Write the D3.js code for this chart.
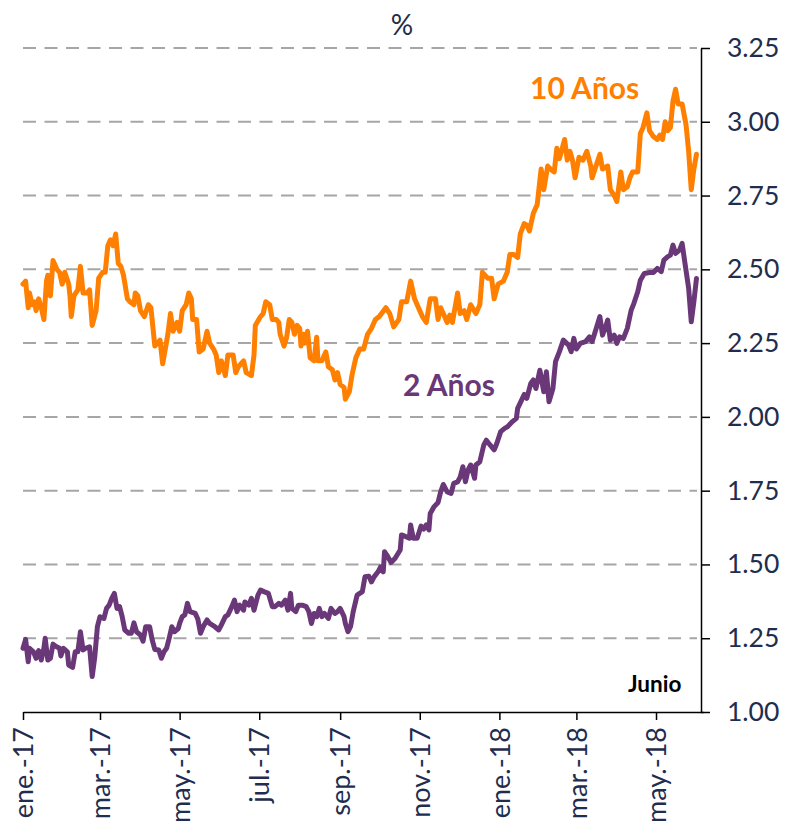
<!DOCTYPE html>
<html>
<head>
<meta charset="utf-8">
<script src="https://cdn.jsdelivr.net/npm/d3@7"></script>
<style>
  html, body { margin: 0; padding: 0; background: #fff; }
  svg { display: block; font-family: Lato, "Open Sans", "Liberation Sans", sans-serif; }
</style>
</head>
<body>
<svg id="chart" width="788" height="838"></svg>
<script>
// ---------------- DATA ----------------
const yTicks = [1.00, 1.25, 1.50, 1.75, 2.00, 2.25, 2.50, 2.75, 3.00, 3.25];
const xTickDates = ["2017-01-01","2017-03-01","2017-05-01","2017-07-01","2017-09-01","2017-11-01","2018-01-01","2018-03-01","2018-05-01"];
const xTickLabels = ["ene.-17","mar.-17","may.-17","jul.-17","sep.-17","nov.-17","ene.-18","mar.-18","may.-18"];
const xDomain = ["2017-01-01","2018-06-06"];
const seriesNames = ["10 Años","2 Años"];

// Bono del Tesoro a 10 años (%)
const tenYear = [
["2017-01-01",2.45],["2017-01-03",2.46],["2017-01-05",2.37],["2017-01-06",2.42],["2017-01-08",2.38],["2017-01-10",2.39],
["2017-01-11",2.36],["2017-01-13",2.40],["2017-01-15",2.37],["2017-01-17",2.33],["2017-01-19",2.46],["2017-01-20",2.48],
["2017-01-22",2.41],["2017-01-24",2.53],["2017-01-27",2.50],["2017-01-29",2.49],["2017-01-31",2.45],["2017-02-02",2.49],
["2017-02-05",2.45],["2017-02-06",2.41],["2017-02-07",2.34],["2017-02-09",2.41],["2017-02-12",2.43],["2017-02-14",2.51],
["2017-02-16",2.42],["2017-02-19",2.42],["2017-02-21",2.43],["2017-02-23",2.31],["2017-02-26",2.36],["2017-02-28",2.47],
["2017-03-03",2.49],["2017-03-05",2.49],["2017-03-07",2.58],["2017-03-09",2.60],["2017-03-11",2.58],["2017-03-13",2.62],
["2017-03-15",2.52],["2017-03-17",2.51],["2017-03-19",2.48],["2017-03-22",2.40],["2017-03-24",2.39],["2017-03-27",2.38],
["2017-03-28",2.42],["2017-03-30",2.41],["2017-04-01",2.36],["2017-04-04",2.34],["2017-04-07",2.38],["2017-04-09",2.37],
["2017-04-12",2.24],["2017-04-14",2.25],["2017-04-16",2.26],["2017-04-18",2.18],["2017-04-20",2.23],["2017-04-22",2.28],
["2017-04-24",2.35],["2017-04-26",2.29],["2017-04-29",2.32],["2017-05-01",2.29],["2017-05-03",2.36],["2017-05-06",2.38],
["2017-05-08",2.42],["2017-05-10",2.40],["2017-05-11",2.33],["2017-05-14",2.33],["2017-05-16",2.22],["2017-05-19",2.23],
["2017-05-22",2.29],["2017-05-24",2.25],["2017-05-27",2.23],["2017-05-29",2.21],["2017-05-31",2.15],["2017-06-02",2.19],
["2017-06-05",2.14],["2017-06-07",2.21],["2017-06-11",2.21],["2017-06-13",2.15],["2017-06-15",2.17],["2017-06-19",2.19],
["2017-06-21",2.15],["2017-06-25",2.14],["2017-06-27",2.21],["2017-06-28",2.31],["2017-07-02",2.34],["2017-07-04",2.35],
["2017-07-06",2.39],["2017-07-09",2.38],["2017-07-11",2.33],["2017-07-14",2.33],["2017-07-16",2.32],["2017-07-17",2.28],
["2017-07-20",2.24],["2017-07-22",2.27],["2017-07-24",2.33],["2017-07-26",2.32],["2017-07-28",2.28],["2017-07-30",2.31],
["2017-08-01",2.30],["2017-08-02",2.24],["2017-08-04",2.28],["2017-08-05",2.25],["2017-08-07",2.29],["2017-08-09",2.20],
["2017-08-12",2.19],["2017-08-14",2.27],["2017-08-15",2.19],["2017-08-18",2.19],["2017-08-21",2.22],["2017-08-23",2.17],
["2017-08-26",2.16],["2017-08-28",2.125],["2017-08-30",2.15],["2017-09-01",2.11],["2017-09-04",2.10],["2017-09-05",2.06],
["2017-09-08",2.085],["2017-09-10",2.14],["2017-09-13",2.20],["2017-09-16",2.23],["2017-09-19",2.23],["2017-09-22",2.28],
["2017-09-25",2.30],["2017-09-28",2.33],["2017-10-01",2.34],["2017-10-06",2.37],["2017-10-09",2.35],["2017-10-12",2.305],
["2017-10-16",2.33],["2017-10-18",2.39],["2017-10-22",2.39],["2017-10-25",2.46],["2017-10-28",2.40],["2017-10-31",2.37],
["2017-11-03",2.34],["2017-11-06",2.32],["2017-11-09",2.40],["2017-11-13",2.40],["2017-11-15",2.33],["2017-11-17",2.37],
["2017-11-19",2.35],["2017-11-22",2.32],["2017-11-24",2.345],["2017-11-26",2.32],["2017-11-30",2.42],["2017-12-02",2.35],
["2017-12-05",2.36],["2017-12-07",2.33],["2017-12-10",2.38],["2017-12-14",2.35],["2017-12-17",2.38],["2017-12-19",2.49],
["2017-12-23",2.47],["2017-12-26",2.47],["2017-12-28",2.40],["2017-12-31",2.45],["2018-01-04",2.46],["2018-01-07",2.49],
["2018-01-09",2.55],["2018-01-12",2.55],["2018-01-15",2.54],["2018-01-17",2.62],["2018-01-20",2.655],["2018-01-22",2.65],
["2018-01-24",2.63],["2018-01-27",2.69],["2018-01-30",2.72],["2018-01-31",2.76],["2018-02-02",2.84],["2018-02-04",2.77],
["2018-02-07",2.85],["2018-02-09",2.84],["2018-02-12",2.83],["2018-02-14",2.91],["2018-02-16",2.875],["2018-02-20",2.94],
["2018-02-22",2.87],["2018-02-24",2.90],["2018-02-26",2.87],["2018-02-28",2.81],["2018-03-03",2.88],["2018-03-06",2.87],
["2018-03-09",2.90],["2018-03-12",2.85],["2018-03-13",2.81],["2018-03-16",2.85],["2018-03-19",2.89],["2018-03-21",2.84],
["2018-03-25",2.85],["2018-03-27",2.77],["2018-03-30",2.75],["2018-04-01",2.73],["2018-04-04",2.83],["2018-04-06",2.77],
["2018-04-09",2.78],["2018-04-11",2.81],["2018-04-13",2.83],["2018-04-17",2.83],["2018-04-19",2.96],["2018-04-21",2.98],
["2018-04-24",3.03],["2018-04-26",2.97],["2018-04-29",2.95],["2018-05-02",2.94],["2018-05-04",2.955],["2018-05-06",2.94],
["2018-05-08",3.00],["2018-05-10",2.97],["2018-05-12",2.98],["2018-05-14",3.07],["2018-05-16",3.11],["2018-05-18",3.06],
["2018-05-21",3.06],["2018-05-24",2.99],["2018-05-26",2.90],["2018-05-28",2.77],["2018-05-30",2.84],["2018-06-01",2.89]
];

// Bono del Tesoro a 2 años (%)
const twoYear = [
["2017-01-01",1.216],["2017-01-03",1.246],["2017-01-05",1.170],["2017-01-06",1.216],["2017-01-09",1.204],["2017-01-11",1.182],
["2017-01-13",1.208],["2017-01-15",1.176],["2017-01-17",1.216],["2017-01-18",1.250],["2017-01-20",1.176],["2017-01-22",1.182],
["2017-01-24",1.230],["2017-01-26",1.223],["2017-01-29",1.216],["2017-01-30",1.190],["2017-02-01",1.216],["2017-02-04",1.204],
["2017-02-05",1.159],["2017-02-08",1.151],["2017-02-10",1.204],["2017-02-12",1.204],["2017-02-14",1.272],["2017-02-16",1.210],
["2017-02-18",1.216],["2017-02-21",1.221],["2017-02-23",1.120],["2017-02-25",1.187],["2017-02-27",1.289],["2017-03-01",1.323],
["2017-03-04",1.317],["2017-03-06",1.351],["2017-03-08",1.362],["2017-03-10",1.385],["2017-03-12",1.402],["2017-03-14",1.351],
["2017-03-16",1.357],["2017-03-18",1.323],["2017-03-20",1.278],["2017-03-23",1.267],["2017-03-25",1.267],["2017-03-27",1.302],
["2017-03-29",1.272],["2017-04-01",1.261],["2017-04-03",1.240],["2017-04-05",1.289],["2017-04-08",1.289],["2017-04-10",1.244],
["2017-04-12",1.212],["2017-04-15",1.210],["2017-04-17",1.182],["2017-04-19",1.204],["2017-04-21",1.216],["2017-04-23",1.250],
["2017-04-25",1.289],["2017-04-27",1.272],["2017-04-30",1.283],["2017-05-01",1.300],["2017-05-03",1.323],["2017-05-05",1.329],
["2017-05-07",1.368],["2017-05-09",1.340],["2017-05-13",1.334],["2017-05-15",1.314],["2017-05-17",1.267],["2017-05-19",1.289],
["2017-05-22",1.312],["2017-05-24",1.300],["2017-05-28",1.289],["2017-05-31",1.278],["2017-06-02",1.295],["2017-06-05",1.323],
["2017-06-07",1.329],["2017-06-10",1.357],["2017-06-12",1.379],["2017-06-14",1.340],["2017-06-16",1.362],["2017-06-19",1.345],
["2017-06-20",1.373],["2017-06-23",1.362],["2017-06-25",1.385],["2017-06-27",1.345],["2017-06-30",1.396],["2017-07-02",1.413],
["2017-07-05",1.407],["2017-07-08",1.402],["2017-07-11",1.357],["2017-07-13",1.357],["2017-07-16",1.368],["2017-07-18",1.362],
["2017-07-21",1.379],["2017-07-23",1.345],["2017-07-25",1.402],["2017-07-26",1.351],["2017-07-29",1.340],["2017-07-31",1.362],
["2017-08-03",1.362],["2017-08-06",1.357],["2017-08-08",1.340],["2017-08-10",1.300],["2017-08-12",1.334],["2017-08-14",1.323],
["2017-08-16",1.351],["2017-08-18",1.323],["2017-08-20",1.334],["2017-08-23",1.317],["2017-08-25",1.351],["2017-08-28",1.334],
["2017-08-30",1.340],["2017-09-01",1.351],["2017-09-04",1.323],["2017-09-05",1.300],["2017-09-07",1.272],["2017-09-09",1.290],
["2017-09-11",1.340],["2017-09-14",1.396],["2017-09-18",1.408],["2017-09-20",1.458],["2017-09-23",1.460],["2017-09-25",1.441],
["2017-09-27",1.458],["2017-09-30",1.475],["2017-10-02",1.492],["2017-10-04",1.475],["2017-10-05",1.543],["2017-10-07",1.530],
["2017-10-10",1.507],["2017-10-13",1.520],["2017-10-17",1.549],["2017-10-18",1.600],["2017-10-21",1.595],["2017-10-24",1.589],
["2017-10-25",1.634],["2017-10-27",1.589],["2017-10-30",1.589],["2017-11-02",1.630],["2017-11-04",1.620],["2017-11-06",1.634],
["2017-11-08",1.617],["2017-11-09",1.673],["2017-11-12",1.696],["2017-11-15",1.710],["2017-11-17",1.746],["2017-11-19",1.771],
["2017-11-22",1.746],["2017-11-25",1.741],["2017-11-27",1.775],["2017-11-30",1.780],["2017-12-02",1.797],["2017-12-04",1.831],
["2017-12-06",1.780],["2017-12-08",1.820],["2017-12-10",1.837],["2017-12-13",1.792],["2017-12-14",1.837],["2017-12-17",1.848],
["2017-12-20",1.904],["2017-12-22",1.921],["2017-12-25",1.904],["2017-12-28",1.888],["2017-12-30",1.910],["2018-01-02",1.950],
["2018-01-05",1.961],["2018-01-07",1.966],["2018-01-11",1.984],["2018-01-14",1.995],["2018-01-15",2.029],["2018-01-18",2.057],
["2018-01-20",2.076],["2018-01-22",2.063],["2018-01-25",2.113],["2018-01-27",2.125],["2018-01-29",2.096],["2018-02-01",2.158],
["2018-02-04",2.085],["2018-02-06",2.153],["2018-02-08",2.051],["2018-02-11",2.096],["2018-02-13",2.187],["2018-02-16",2.221],
["2018-02-19",2.260],["2018-02-23",2.243],["2018-02-25",2.221],["2018-02-27",2.266],["2018-03-01",2.230],["2018-03-04",2.249],
["2018-03-08",2.255],["2018-03-11",2.271],["2018-03-13",2.255],["2018-03-17",2.311],["2018-03-19",2.340],["2018-03-21",2.277],
["2018-03-23",2.300],["2018-03-25",2.328],["2018-03-27",2.260],["2018-03-30",2.277],["2018-04-01",2.249],["2018-04-03",2.271],
["2018-04-06",2.266],["2018-04-09",2.300],["2018-04-12",2.362],["2018-04-14",2.384],["2018-04-17",2.424],["2018-04-19",2.463],
["2018-04-22",2.486],["2018-04-26",2.489],["2018-04-29",2.489],["2018-05-02",2.503],["2018-05-05",2.492],["2018-05-07",2.531],
["2018-05-10",2.543],["2018-05-12",2.548],["2018-05-14",2.582],["2018-05-16",2.554],["2018-05-19",2.565],["2018-05-21",2.588],
["2018-05-23",2.526],["2018-05-26",2.436],["2018-05-28",2.322],["2018-05-30",2.390],["2018-06-01",2.469]
];

// ---------------- CHART ----------------
const parse = d3.timeParse("%Y-%m-%d");
const svg = d3.select("#chart");
const textColor = "#1f2d4e";

const x = d3.scaleTime().domain(xDomain.map(parse)).range([23, 703]);
const y = d3.scaleLinear().domain([1, 3.25]).range([712, 48]);

// gridlines
svg.append("g").selectAll("line")
  .data(yTicks.filter(v => v > 1))
  .join("line")
  .attr("x1", 23).attr("x2", 697)
  .attr("y1", d => y(d)).attr("y2", d => y(d))
  .attr("stroke", "#a6a6a6").attr("stroke-width", 2)
  .attr("stroke-dasharray", "13,8.5");

// lines
const line = d3.line().x(d => x(parse(d[0]))).y(d => y(d[1])).curve(d3.curveLinear);
const colors = ["#ff7f00", "#6a3878"];
[tenYear, twoYear].forEach((s, i) => {
  svg.append("path").datum(s)
    .attr("fill", "none")
    .attr("stroke", colors[i])
    .attr("stroke-width", 5)
    .attr("stroke-linejoin", "round")
    .attr("stroke-linecap", "round")
    .attr("d", line);
});

// x axis
const xAxis = d3.axisBottom(x)
  .tickValues(xTickDates.map(parse))
  .tickFormat((d, i) => xTickLabels[i])
  .tickSize(8).tickSizeOuter(0);
const gx = svg.append("g").attr("transform", "translate(0,712)").call(xAxis);
gx.select(".domain").attr("stroke", "#000").attr("stroke-width", 1.5);
gx.selectAll(".tick line").attr("stroke", "#000").attr("stroke-width", 1.5);
gx.selectAll(".tick text")
  .attr("transform", "rotate(-90)")
  .attr("x", -15).attr("y", 0).attr("dy", "0.36em")
  .style("text-anchor", "end")
  .style("font-size", "27px")
  .style("font-family", "Lato, 'Open Sans', sans-serif")
  .attr("fill", textColor);

// y axis (right)
const yAxis = d3.axisRight(y)
  .tickValues(yTicks)
  .tickFormat(d3.format(".2f"))
  .tickSize(9).tickSizeOuter(0).tickPadding(17);
const gy = svg.append("g").attr("transform", "translate(701,0)").call(yAxis);
gy.select(".domain").attr("stroke", "#000").attr("stroke-width", 1.5);
gy.selectAll(".tick line").attr("stroke", "#000").attr("stroke-width", 1.5);
gy.selectAll(".tick text")
  .style("font-size", "26.5px")
  .style("font-family", "Lato, 'Open Sans', sans-serif")
  .attr("fill", textColor);

// titles and labels
svg.append("text").attr("x", 402).attr("y", 35)
  .attr("text-anchor", "middle").attr("fill", textColor)
  .style("font-size", "28px").text("%");

svg.append("text").attr("x", 530).attr("y", 99)
  .attr("fill", colors[0]).style("font-size", "30px").style("font-weight", "bold")
  .text(seriesNames[0]);

svg.append("text").attr("x", 403).attr("y", 396)
  .attr("fill", colors[1]).style("font-size", "30px").style("font-weight", "bold")
  .text(seriesNames[1]);

svg.append("text").attr("x", 628).attr("y", 692)
  .attr("fill", "#000").style("font-size", "22.5px").style("font-weight", "bold")
  .text("Junio");
</script>
</body>
</html>
